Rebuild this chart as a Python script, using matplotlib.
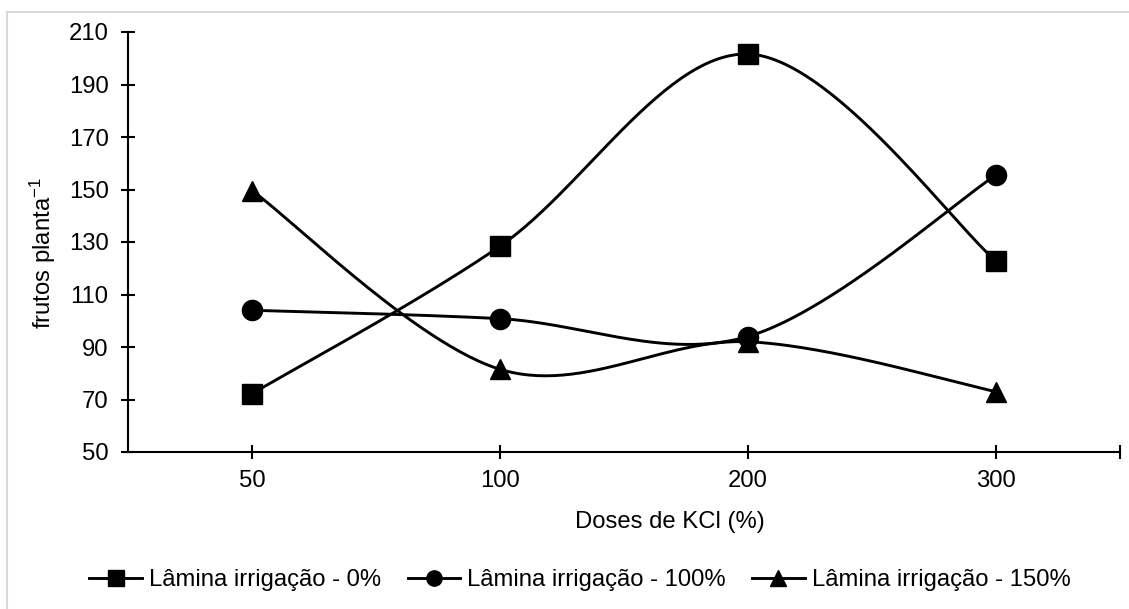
import numpy as np
import matplotlib.pyplot as plt
from matplotlib.lines import Line2D

plt.rcParams['font.family'] = ['Liberation Sans', 'DejaVu Sans']
plt.rcParams['mathtext.default'] = 'regular'

doses = ['50', '100', '200', '300']
lamina_0 = [72.2, 128.4, 201.6, 122.8]
lamina_100 = [104.0, 100.8, 94.0, 155.5]
lamina_150 = [149.6, 81.5, 92.0, 73.0]
legendas = ['Lâmina irrigação - 0%', 'Lâmina irrigação - 100%', 'Lâmina irrigação - 150%']
marcadores = ['s', 'o', '^']

W, H = 1129, 609
fs = 17.2
fig = plt.figure(figsize=(W / 100, H / 100), dpi=100)
ax = fig.add_axes([128 / W, 1 - 452 / H, 992 / W, 420 / H])

# px por unidade (x: categoria, y: frutos) para suavizar como o excel
sx, sy = 248.0, 2.625


def suave(xs, ys, n=60):
    px = np.array(xs, float) * sx
    py = np.array(ys, float) * sy
    P = np.column_stack([px, py])
    P = np.vstack([P[0], P, P[-1]])
    out = []
    for i in range(1, len(P) - 2):
        p0, p1, p2, p3 = P[i - 1], P[i], P[i + 1], P[i + 2]
        c1 = p1 + (p2 - p0) / 6
        c2 = p2 - (p3 - p1) / 6
        t = np.linspace(0, 1, n)[:, None]
        seg = ((1 - t) ** 3) * p1 + 3 * ((1 - t) ** 2) * t * c1 + 3 * (1 - t) * t ** 2 * c2 + t ** 3 * p2
        out.append(seg if i == 1 else seg[1:])
    c = np.vstack(out)
    return c[:, 0] / sx, c[:, 1] / sy


xpos = np.arange(1, len(doses) + 1)
for serie, mk in zip([lamina_0, lamina_100, lamina_150], marcadores):
    cx, cy = suave(xpos, serie)
    ax.plot(cx, cy, color='black', lw=2.1, solid_capstyle='butt')
    ax.plot(xpos, serie, ls='none', marker=mk, ms=14.5, color='black')

ax.set_xlim(0.5, 4.5)
ax.set_ylim(50, 210)
ax.set_yticks(np.arange(50, 211, 20))
ax.set_xticks(xpos)
ax.set_xticklabels(doses)
ax.set_xticks([4.5], minor=True)

for s in ['top', 'right']:
    ax.spines[s].set_visible(False)
for s in ['left', 'bottom']:
    ax.spines[s].set_linewidth(1.5)

ax.tick_params(axis='both', which='both', direction='inout', length=10, width=1.5,
               labelsize=fs, colors='black')
ax.tick_params(axis='y', pad=9)
ax.tick_params(axis='x', pad=8)

fig.text(43 / W, 1 - 253 / H, r'frutos planta$^{-1}$', rotation=90,
         ha='center', va='center', fontsize=fs)
fig.text(670 / W, 1 - 522 / H, 'Doses de KCl (%)', ha='center', va='center', fontsize=fs)

handles = [Line2D([], [], color='black', lw=2.1, marker=m, ms=11) for m in marcadores]
fig.legend(handles, legendas, loc='center', bbox_to_anchor=(580 / W, 1 - 580 / H),
           ncol=3, frameon=False, fontsize=fs, handlelength=2.2,
           handletextpad=0.3, columnspacing=1.1)

# borda cinza da area do grafico
fig.add_artist(Line2D([7 / W, 7 / W], [0, 1 - 12 / H], color='#d9d9d9', lw=1.5))
fig.add_artist(Line2D([7 / W, 1], [1 - 12 / H, 1 - 12 / H], color='#d9d9d9', lw=1.5))

fig.savefig('out.png', dpi=100)
